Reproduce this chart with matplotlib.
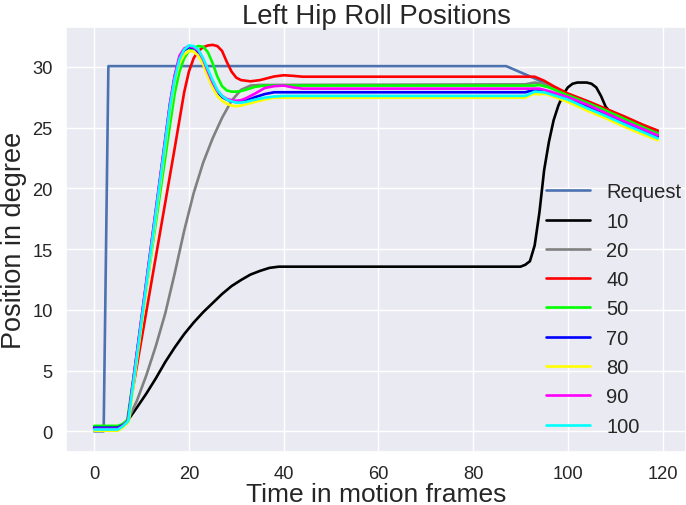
import matplotlib
matplotlib.use("Agg")
import matplotlib.pyplot as plt
import seaborn as sns

sns.set_theme(style="darkgrid")
plt.rcParams['font.family'] = ['Liberation Sans', 'DejaVu Sans']

labels = ["Request", "10", "20", "40", "50", "70", "80", "90", "100"]
colors = ["#4C72B0", "black", "gray", "red", "lime", "blue", "yellow", "magenta", "cyan"]

req_x = [0, 2, 3, 87, 95, 100, 119]
req_y = [0, 0, 30.05, 30.05, 28.7, 27.75, 24.7]

s10_x = [0, 5, 6, 7, 9, 11, 13, 15, 17, 19, 21, 23, 25, 27, 29, 31, 33, 35, 37, 39,
         90, 91, 92, 93, 94, 95, 96, 97, 98, 99, 100, 101, 102, 104, 105, 106, 107,
         108, 110, 113, 116, 119]
s10_y = [0.3, 0.3, 0.5, 0.85, 1.95, 3.1, 4.35, 5.7, 6.9, 8.0, 8.95, 9.8, 10.55, 11.3, 11.95,
         12.45, 12.9, 13.2, 13.45, 13.55, 13.55, 13.7, 14.0, 15.3, 18.0, 21.5, 23.8, 25.6,
         26.8, 27.7, 28.3, 28.6, 28.7, 28.7, 28.6, 28.3, 27.6, 26.7, 25.8, 25.3, 24.8, 24.35]

s20_x = [0, 5, 6, 7, 9, 11, 13, 15, 17, 19, 21, 23, 25, 27, 29, 31, 33, 35, 91, 93,
         95, 100, 104, 108, 112, 116, 119]
s20_y = [0.3, 0.3, 0.5, 0.85, 2.5, 4.6, 7.0, 9.7, 13.0, 16.5, 19.6, 22.1, 24.1, 25.8,
         27.2, 28.1, 28.45, 28.5, 28.55, 28.7, 28.6, 27.7, 27.1, 26.45, 25.75, 25.05, 24.55]

s40_x = [0, 5, 6, 7, 17, 18, 19, 20, 21, 22, 23, 24, 25, 26, 27, 28, 29, 30, 31, 32,
         33, 34, 35, 36, 38, 40, 42, 44, 93, 95, 97, 100, 104, 108, 112, 116, 119]
s40_y = [0.35, 0.35, 0.55, 0.85, 23.3, 25.6, 27.9, 29.6, 30.7, 31.3, 31.6, 31.75, 31.8,
         31.7, 31.3, 30.4, 29.6, 29.1, 28.9, 28.85, 28.8, 28.85, 28.9, 29.0, 29.2, 29.3,
         29.25, 29.18, 29.18, 28.85, 28.4, 27.8, 27.2, 26.55, 25.9, 25.2, 24.75]

s50_x = [0, 5, 6, 7, 16, 17, 18, 19, 20, 21, 22, 23, 24, 25, 26, 27, 28, 29, 30, 31,
         32, 34, 36, 93, 94, 96, 100, 104, 108, 112, 116, 119]
s50_y = [0.45, 0.45, 0.6, 0.95, 25.2, 27.8, 29.6, 30.7, 31.3, 31.55, 31.7, 31.65, 31.2,
         30.3, 29.2, 28.4, 28.05, 27.95, 27.95, 28.0, 28.1, 28.35, 28.45, 28.45, 28.5,
         28.3, 27.65, 27.05, 26.4, 25.7, 25.0, 24.5]

s70_x = [0, 5, 6, 7.1, 16, 17, 18, 19, 20, 21, 22, 23, 24, 25, 26, 27, 28, 29, 30, 31,
         32, 34, 36, 38, 91, 93, 95, 100, 104, 108, 112, 116, 119]
s70_y = [0.3, 0.3, 0.5, 0.8, 26.9, 29.2, 30.7, 31.35, 31.6, 31.55, 31.2, 30.5, 29.5,
         28.6, 27.9, 27.5, 27.3, 27.15, 27.1, 27.1, 27.2, 27.5, 27.75, 27.9, 27.9, 28.1,
         28.05, 27.4, 26.8, 26.1, 25.4, 24.75, 24.25]

s80_x = [0, 5, 6, 7.3, 16, 17, 18, 19, 20, 21, 22, 23, 24, 25, 26, 27, 28, 29, 30, 31,
         32, 34, 36, 38, 91, 92.5, 95.5, 100, 104, 108, 112, 116, 119]
s80_y = [0.05, 0.05, 0.3, 0.8, 26.4, 28.8, 30.3, 31.0, 31.3, 31.25, 30.9, 30.2, 29.2,
         28.3, 27.6, 27.2, 26.95, 26.8, 26.75, 26.8, 26.9, 27.1, 27.3, 27.45, 27.45,
         27.75, 27.75, 27.1, 26.4, 25.75, 25.05, 24.4, 23.95]

s90_x = [0, 5, 6, 7.1, 16, 17, 18, 19, 20, 21, 22, 23, 24, 25, 26, 27, 28, 29, 30, 31,
         32, 34, 36, 38, 40, 42, 44, 94, 96, 100, 104, 108, 112, 116, 119]
s90_y = [0.2, 0.2, 0.45, 0.85, 27.0, 29.3, 30.9, 31.5, 31.7, 31.6, 31.3, 30.6, 29.6,
         28.7, 28.0, 27.6, 27.35, 27.25, 27.2, 27.25, 27.4, 27.8, 28.25, 28.4, 28.45,
         28.3, 28.2, 28.2, 28.0, 27.5, 26.9, 26.2, 25.5, 24.85, 24.35]

s100_x = [0, 5, 6, 7.2, 16, 17, 18, 19, 20, 21, 22, 23, 24, 25, 26, 27, 28, 29, 30, 31,
          32, 34, 36, 38, 40, 91, 93, 95, 100, 104, 108, 112, 116, 119]
s100_y = [0.15, 0.15, 0.4, 0.85, 26.7, 29.0, 30.6, 31.4, 31.75, 31.7, 31.4, 30.7, 29.8,
          28.9, 28.1, 27.6, 27.3, 27.15, 27.05, 27.05, 27.1, 27.3, 27.45, 27.55, 27.6,
          27.6, 27.95, 27.9, 27.3, 26.6, 25.95, 25.25, 24.6, 24.1]

series = [(req_x, req_y), (s10_x, s10_y), (s20_x, s20_y), (s40_x, s40_y), (s50_x, s50_y),
          (s70_x, s70_y), (s80_x, s80_y), (s90_x, s90_y), (s100_x, s100_y)]

fig = plt.figure(figsize=(6.86, 5.06), dpi=100)
ax = fig.add_axes([66 / 686, 53 / 506, 620 / 686, 425 / 506])

for (xs, ys), lab, col in zip(series, labels, colors):
    ax.plot(xs, ys, color=col, label=lab, linewidth=1.9)

ax.set_xlim(-5.95, 124.95)
ax.set_ylim(-1.70, 33.27)
ax.set_xticks([0, 20, 40, 60, 80, 100, 120])
ax.set_yticks([0, 5, 10, 15, 20, 25, 30])
ax.tick_params(labelsize=13.2)

ax.set_title("Left Hip Roll Positions", fontsize=19.8, pad=3)
ax.set_xlabel("Time in motion frames", fontsize=19.0, labelpad=-0.3)
ax.set_ylabel("Position in degree", fontsize=19.5, labelpad=4)

ax.legend(loc="center left", bbox_to_anchor=((546 - 66) / 620, (453 - 310) / 425),
          frameon=False, fontsize=14.5, borderpad=0, borderaxespad=0,
          handlelength=2.2, handletextpad=0.8, labelspacing=0.51)

fig.savefig("out.png", dpi=100)
